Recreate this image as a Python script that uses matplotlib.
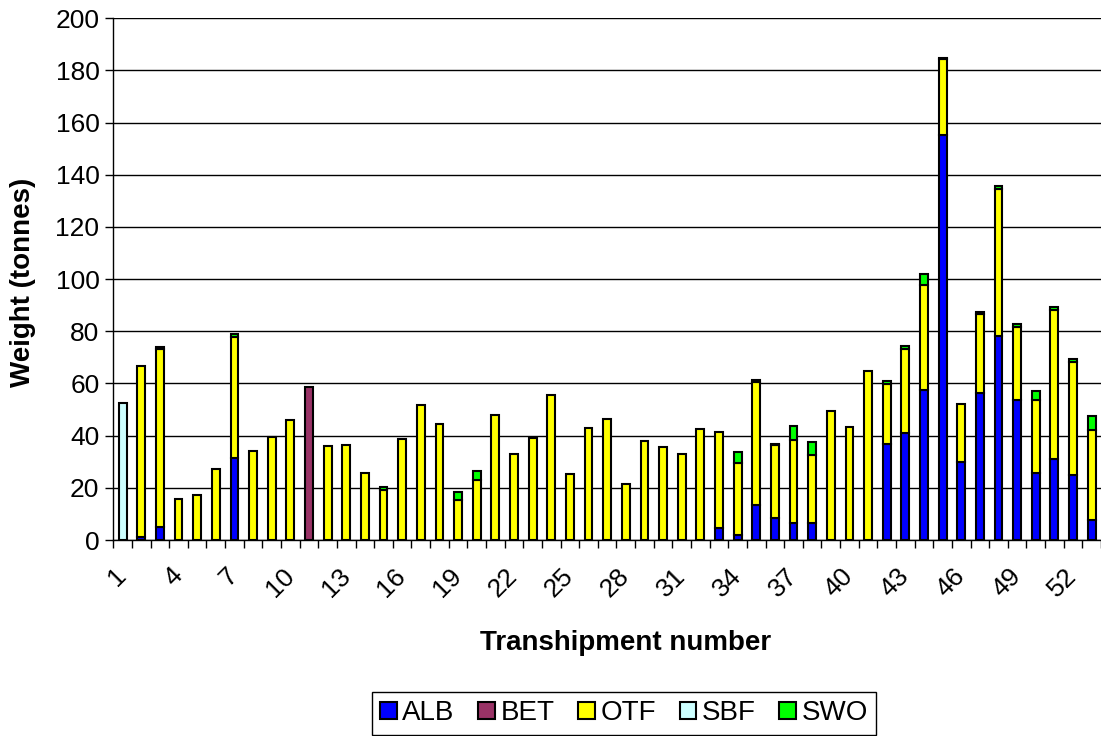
import numpy as np
import matplotlib
matplotlib.use("Agg")
import matplotlib.pyplot as plt

plt.rcParams['font.family'] = ['Liberation Sans', 'DejaVu Sans']

# transhipment numbers 1..53
trans = np.arange(1, 54)

alb = [0, 1, 5, 0, 0, 0, 31.3, 0, 0, 0,
       0, 0, 0, 0, 0, 0, 0, 0, 0, 0,
       0, 0, 0, 0, 0, 0, 0, 0, 0, 0,
       0, 0, 4.7, 1.9, 13.4, 8.4, 6.5, 6.5, 0, 0,
       0, 36.7, 41.1, 57.4, 155.3, 29.8, 56.2, 78.3, 53.5, 25.6,
       30.9, 24.9, 7.8]
bet = [0] * 53
bet[10] = 58.7
otf = [0, 65.7, 68.3, 15.6, 17.1, 27.2, 46.5, 34.2, 39.6, 46.0,
       0, 36.1, 36.5, 25.7, 19.2, 38.8, 51.7, 44.4, 15.3, 23.0,
       47.9, 33.1, 39.2, 55.7, 25.4, 43.0, 46.5, 21.3, 37.9, 35.6,
       32.8, 42.5, 36.8, 27.5, 47.0, 27.9, 31.7, 26.2, 49.4, 43.2,
       64.8, 23.2, 32.1, 40.4, 29.1, 22.5, 30.4, 56.4, 28.3, 27.9,
       57.4, 43.3, 34.5]
sbf = [0] * 53
sbf[0] = 52.4
swo = [0, 0, 0.7, 0, 0, 0, 1.2, 0, 0, 0,
       0, 0, 0, 0, 1.2, 0, 0, 0, 3.2, 3.4,
       0, 0, 0, 0, 0, 0, 0, 0, 0, 0,
       0, 0, 0, 4.3, 1.0, 0.5, 5.6, 4.7, 0, 0,
       0, 1.0, 1.0, 4.1, 0.3, 0, 0.8, 1.0, 1.0, 3.6,
       1.0, 1.0, 5.2]

species = ['ALB', 'BET', 'OTF', 'SBF', 'SWO']
series = [alb, bet, otf, sbf, swo]
colours = ['#0000FF', '#993366', '#FFFF00', '#CCFFFF', '#00FF00']

W, H = 1101, 736
fig = plt.figure(figsize=(W / 100, H / 100), dpi=100)
ax = fig.add_axes([113.3 / W, 1 - 540 / H, 1 - 113.3 / W, (540 - 18.3) / H])

bottom = np.zeros(len(trans))
for name, vals, col in zip(species, series, colours):
    vals = np.array(vals, dtype=float)
    mask = vals > 0
    ax.bar(trans[mask], vals[mask], width=0.42, bottom=bottom[mask],
           color=col, edgecolor='black', linewidth=1.5, zorder=3)
    ax.bar([np.nan], [np.nan], color=col, edgecolor='black', linewidth=1.5, label=name)
    bottom += vals

ax.set_xlim(0.5, 0.5 + (W - 113.3) / 18.77)
ax.set_ylim(0, 200)
ax.set_yticks(np.arange(0, 201, 20))
ax.yaxis.grid(True, color='black', linewidth=1.0, zorder=0)
ax.set_axisbelow(True)

for s in ['top', 'right']:
    ax.spines[s].set_visible(False)
ax.spines['left'].set_linewidth(1.0)
ax.spines['bottom'].set_linewidth(1.0)

ax.set_xticks(trans[::3])
ax.set_xticklabels([str(t) for t in trans[::3]], rotation=45, ha='right', va='center',
                   rotation_mode='anchor', fontsize=19)
ax.set_xticks(np.arange(0.5, 54.5, 1), minor=True)
ax.tick_params(axis='x', which='major', length=0, pad=23)
ax.tick_params(axis='x', which='minor', length=6, width=1, direction='out')
ax.tick_params(axis='y', length=6, width=1, direction='out', labelsize=19, pad=4)

fig.text(626 / W, 1 - 643 / H, 'Transhipment number', ha='center', va='center',
         fontsize=20, fontweight='bold')
fig.text(23 / W, 1 - 282 / H, 'Weight (tonnes)', ha='center', va='center',
         rotation=90, fontsize=20, fontweight='bold')

leg = fig.legend(loc='upper center', bbox_to_anchor=(624 / W, 1 - 692 / H), ncol=5,
                 fontsize=20, frameon=True, fancybox=False, framealpha=1,
                 edgecolor='black', handlelength=0.6, handleheight=0.6,
                 handletextpad=0.2, columnspacing=0.85, borderpad=0.3,
                 borderaxespad=0)
leg.get_frame().set_linewidth(1.0)

fig.savefig('out.png', dpi=100)
